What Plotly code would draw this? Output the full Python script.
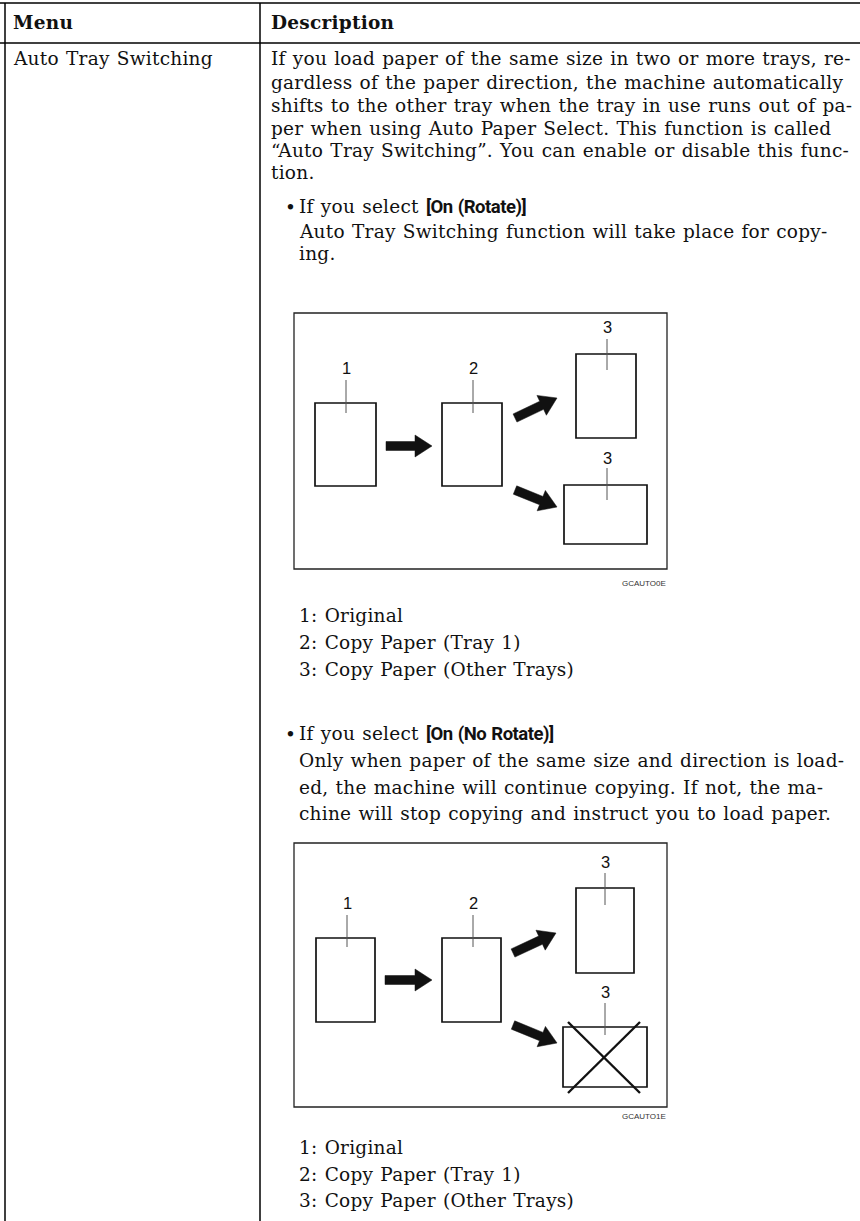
import math
import plotly.graph_objects as go

W, H = 860, 1221

# ---------------- text content ----------------
header_cols = ["Menu", "Description"]
menu_item = "Auto Tray Switching"
para_lines = [
    "If you load paper of the same size in two or more trays, re-",
    "gardless of the paper direction, the machine automatically",
    "shifts to the other tray when the tray in use runs out of pa-",
    "per when using Auto Paper Select. This function is called",
    "\u201cAuto Tray Switching\u201d. You can enable or disable this func-",
    "tion.",
]
bullet1_label = "[On (Rotate)]"
bullet1_lines = [
    "Auto Tray Switching function will take place for copy-",
    "ing.",
]
bullet2_label = "[On (No Rotate)]"
bullet2_lines = [
    "Only when paper of the same size and direction is load-",
    "ed, the machine will continue copying. If not, the ma-",
    "chine will stop copying and instruct you to load paper.",
]
legend_items = ["1: Original", "2: Copy Paper (Tray 1)", "3: Copy Paper (Other Trays)"]
figure_codes = ["GCAUTO0E", "GCAUTO1E"]
part_numbers = ["1", "2", "3", "3"]

# ---------------- layout constants ----------------
SERIF = "DejaVu Serif"
NARROW = "Roboto, Liberation Sans, sans-serif"
SANS = "Liberation Sans, Arial, sans-serif"
FS = 18.5
SPACING = "letter-spacing:0.25px;word-spacing:1px"

para_y = [58, 82, 105, 128, 150, 172]
b1_y = [207, 231, 253]
leg1_y = [615, 642, 669]
b2_y = [734, 760, 787, 813]
leg2_y = [1147, 1174, 1200]

diag1 = dict(
    box=(294, 313, 667, 569),
    rects=[(315, 403, 376, 486), (442, 403, 502, 486), (576, 354, 636, 438), (564, 485, 647, 544)],
    labels=[(346, 368), (473, 368), (607, 327), (607, 458)],
    leaders=[(346, 380, 413), (473, 380, 413), (607, 339, 370), (607, 468, 500)],
    arrows=[((386, 446), (432, 446)), ((515, 418), (557, 398)), ((515, 490), (557, 507))],
    cross=None,
    code_y=583,
)
diag2 = dict(
    box=(294, 843, 667, 1107),
    rects=[(316, 938, 375, 1022), (442, 938, 501, 1022), (576, 888, 634, 973), (563, 1027, 647, 1087)],
    labels=[(347, 903), (473, 903), (605, 862), (605, 992)],
    leaders=[(347, 915, 947), (473, 915, 947), (605, 873, 905), (605, 1003, 1035)],
    arrows=[((385, 980), (432, 980)), ((513, 953), (556, 933)), ((513, 1025), (557, 1043))],
    cross=((568, 1022, 640, 1093), (640, 1022, 568, 1093)),
    code_y=1116,
)

shapes = []
annotations = []


def line(x0, y0, x1, y1, color="black", width=1.5):
    shapes.append(dict(type="line", xref="x", yref="y", x0=x0, y0=y0, x1=x1, y1=y1,
                       line=dict(color=color, width=width)))


def text(x, y, s, size=FS, family=SERIF, color="#111", xanchor="left", spaced=True):
    if spaced:
        s = "<span style='" + SPACING + "'>" + s + "</span>"
    annotations.append(dict(x=x, y=y, xref="x", yref="y", text=s, showarrow=False,
                            xanchor=xanchor, yanchor="middle", borderpad=0,
                            font=dict(family=family, size=size, color=color)))


def arrow_path(p0, p1, shaft=4.5, head=11, head_len=17):
    x0, y0 = p0
    x1, y1 = p1
    dx, dy = x1 - x0, y1 - y0
    L = math.hypot(dx, dy)
    ux, uy = dx / L, dy / L
    nx, ny = -uy, ux
    bx, by = x1 - ux * head_len, y1 - uy * head_len
    pts = [
        (x0 + nx * shaft, y0 + ny * shaft),
        (bx + nx * shaft, by + ny * shaft),
        (bx + nx * head, by + ny * head),
        (x1, y1),
        (bx - nx * head, by - ny * head),
        (bx - nx * shaft, by - ny * shaft),
        (x0 - nx * shaft, y0 - ny * shaft),
    ]
    return "M " + " L ".join(f"{px:.2f},{py:.2f}" for px, py in pts) + " Z"


# ---------------- table frame ----------------
line(0, 3, W, 3)
line(0, 43, W, 43)
line(5, 3, 5, H, width=1.5)
line(260, 3, 260, H, width=1.5)

text(12, 22, "<b>" + header_cols[0] + "</b>")
text(270, 22, "<b>" + header_cols[1] + "</b>")
text(12, para_y[0], menu_item)

for y, s in zip(para_y, para_lines):
    text(270, y, s)


def bullet(ys, label, lines):
    text(284, ys[0], "\u2022", spaced=False)
    text(298, ys[0], "If you select <span style='font-family:" + NARROW
         + ";letter-spacing:-0.5px'><b>" + label + "</b></span>")
    for y, s in zip(ys[1:], lines):
        text(298, y, s)


bullet(b1_y, bullet1_label, bullet1_lines)
bullet(b2_y, bullet2_label, bullet2_lines)


def diagram(d, code):
    x0, y0, x1, y1 = d["box"]
    shapes.append(dict(type="rect", xref="x", yref="y", x0=x0, y0=y0, x1=x1, y1=y1,
                       line=dict(color="#222", width=1.3), fillcolor="rgba(0,0,0,0)"))
    for (a, b, c, e) in d["rects"]:
        shapes.append(dict(type="rect", xref="x", yref="y", x0=a, y0=b, x1=c, y1=e,
                           line=dict(color="#111", width=1.7), fillcolor="white"))
    for (lx, la, lb) in d["leaders"]:
        line(lx, la, lx, lb, color="#555", width=1)
    for (lx, ly), num in zip(d["labels"], part_numbers):
        text(lx, ly, num, size=16.5, family=SANS, color="#111", xanchor="center", spaced=False)
    for p0, p1 in d["arrows"]:
        shapes.append(dict(type="path", xref="x", yref="y", path=arrow_path(p0, p1),
                           fillcolor="#111", line=dict(color="#111", width=0.5)))
    if d["cross"]:
        for (a, b, c, e) in d["cross"]:
            line(a, b, c, e, color="#111", width=2.4)
    text(x1, d["code_y"], code, size=8, family=SANS, color="#333", xanchor="right", spaced=False)


diagram(diag1, figure_codes[0])
diagram(diag2, figure_codes[1])

for y, s in zip(leg1_y, legend_items):
    text(298, y, s)
for y, s in zip(leg2_y, legend_items):
    text(298, y, s)

fig = go.Figure()
fig.update_layout(
    width=W, height=H,
    margin=dict(l=0, r=0, t=0, b=0),
    paper_bgcolor="white", plot_bgcolor="white",
    xaxis=dict(range=[0, W], visible=False, fixedrange=True),
    yaxis=dict(range=[H, 0], visible=False, fixedrange=True),
    shapes=shapes, annotations=annotations, showlegend=False,
)
fig.write_html(
    "out.html",
    config={"displayModeBar": False},
    post_script="document.body.style.margin='0';document.body.style.overflow='hidden';",
)
